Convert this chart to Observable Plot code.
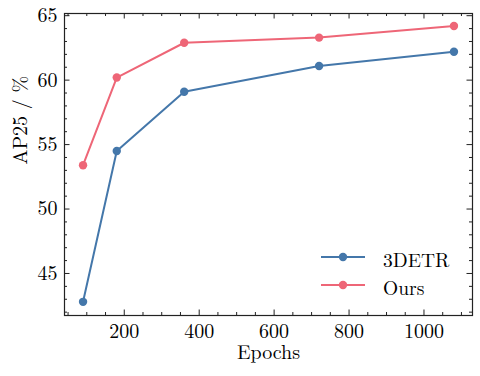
<!DOCTYPE html>
<html>
<head>
<meta charset="utf-8">
<script src="https://cdn.jsdelivr.net/npm/d3@7"></script>
<script src="https://cdn.jsdelivr.net/npm/@observablehq/plot@0.6"></script>
<style>
  html, body { margin: 0; padding: 0; background: #fff; }
  #chart { position: relative; width: 480px; height: 376px; font-family: "Latin Modern Roman", "Liberation Serif", serif; }
  #chart svg, #chart svg text { font-family: "Latin Modern Roman", "Liberation Serif", serif; }
  .legend { position: absolute; left: 321px; top: 243px; font-size: 19.5px; color: #000; }
  .legend .row { display: flex; align-items: center; height: 28px; }
  .legend .row span { margin-left: 18px; position: relative; top: 2px; }
</style>
</head>
<body>
<div id="chart"></div>
<script>
// Training epochs and AP25 (%) for each method
const epochs = [90, 180, 360, 720, 1080];
const detr = [42.8, 54.5, 59.1, 61.1, 62.2];
const ours = [53.4, 60.2, 62.9, 63.3, 64.2];
const seriesNames = ["3DETR", "Ours"];
const seriesColors = ["#4477AA", "#EE6677"];

const xMajor = [200, 400, 600, 800, 1000];
const yMajor = [45, 50, 55, 60, 65];
const xMinor = d3.range(50, 1101, 50).filter(v => v % 200 !== 0);
const yMinor = d3.range(42, 65, 1).filter(v => v % 5 !== 0);

const rows = [
  ...epochs.map((e, i) => ({epoch: e, ap: detr[i], method: seriesNames[0]})),
  ...epochs.map((e, i) => ({epoch: e, ap: ours[i], method: seriesNames[1]}))
];

const W = 480, H = 376;
const mL = 64, mR = 8, mT = 13, mB = 61;
const innerW = W - mL - mR, innerH = H - mT - mB;
const major = 5.5, minor = 3;
const serif = "'Latin Modern Roman', 'Liberation Serif', serif";

// Inward ticks on all four sides of the frame
const ticksX = (vals, len) => [
  Plot.tickX(vals, {x: d => d, insetTop: innerH - len, stroke: "#222", strokeWidth: 1}),
  Plot.tickX(vals, {x: d => d, insetBottom: innerH - len, stroke: "#222", strokeWidth: 1})
];
const ticksY = (vals, len) => [
  Plot.tickY(vals, {y: d => d, insetRight: innerW - len, stroke: "#222", strokeWidth: 1}),
  Plot.tickY(vals, {y: d => d, insetLeft: innerW - len, stroke: "#222", strokeWidth: 1})
];

const chart = Plot.plot({
  width: W,
  height: H,
  marginLeft: mL,
  marginRight: mR,
  marginTop: mT,
  marginBottom: mB,
  style: {fontFamily: serif, fontSize: "20px", color: "#000", background: "#fff"},
  x: {domain: [40.5, 1129.5]},
  y: {domain: [41.74, 65.17]},
  color: {domain: seriesNames, range: seriesColors},
  marks: [
    Plot.axisX({ticks: xMajor, tickFormat: d3.format("d"), tickSize: 0, tickPadding: 8, label: null, fontSize: 20}),
    Plot.axisY({ticks: yMajor, tickFormat: d3.format("d"), tickSize: 0, tickPadding: 7, label: null, fontSize: 20}),
    ...ticksX(xMajor, major),
    ...ticksX(xMinor, minor),
    ...ticksY(yMajor, major),
    ...ticksY(yMinor, minor),
    Plot.line(rows, {x: "epoch", y: "ap", stroke: "method", z: "method", strokeWidth: 2}),
    Plot.dot(rows, {x: "epoch", y: "ap", fill: "method", r: 4.2}),
    Plot.frame({stroke: "#222", strokeWidth: 1.2}),
    Plot.text(["Epochs"], {frameAnchor: "bottom", dy: 43, fontSize: 20, fill: "#000"}),
    Plot.text(["AP25 / %"], {frameAnchor: "left", rotate: -90, dx: -44, fontSize: 20, fill: "#000"})
  ]
});

const root = document.getElementById("chart");
root.appendChild(chart);

// Legend: line-with-marker swatch and label for each method
const legend = document.createElement("div");
legend.className = "legend";
seriesNames.forEach((name, i) => {
  const row = document.createElement("div");
  row.className = "row";
  row.innerHTML =
    `<svg width="44" height="28"><line x1="0" x2="44" y1="14" y2="14" stroke="${seriesColors[i]}" stroke-width="2"/>` +
    `<circle cx="22" cy="14" r="4.2" fill="${seriesColors[i]}"/></svg><span>${name}</span>`;
  legend.appendChild(row);
});
root.appendChild(legend);
</script>
</body>
</html>
